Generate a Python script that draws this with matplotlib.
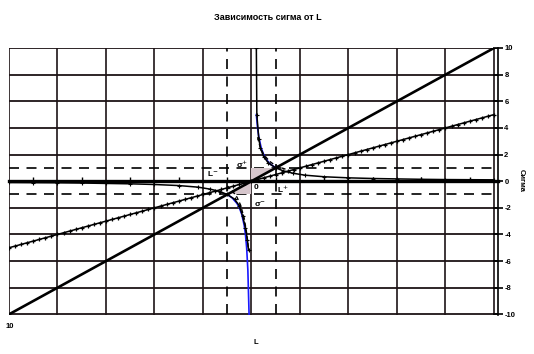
import matplotlib.pyplot as plt

# --- data ---
# straight line sigma = L
line_L = [-10, 10]
line_sigma = [-10, 10]

# line sigma = L/2 (dense cross markers)
half_L = [-10, -9.75, -9.5, -9.25, -9, -8.75, -8.5, -8.25, -8, -7.75, -7.5, -7.25,
          -7, -6.75, -6.5, -6.25, -6, -5.75, -5.5, -5.25, -5, -4.75, -4.5, -4.25,
          -4, -3.75, -3.5, -3.25, -3, -2.75, -2.5, -2.25, -2, -1.75, -1.5, -1.25,
          -1, -0.75, -0.5, -0.25, 0, 0.25, 0.5, 0.75, 1, 1.25, 1.5, 1.75, 2, 2.25,
          2.5, 2.75, 3, 3.25, 3.5, 3.75, 4, 4.25, 4.5, 4.75, 5, 5.25, 5.5, 5.75, 6,
          6.25, 6.5, 6.75, 7, 7.25, 7.5, 7.75, 8, 8.25, 8.5, 8.75, 9, 9.25, 9.5,
          9.75, 10]
half_sigma = [-5, -4.875, -4.75, -4.625, -4.5, -4.375, -4.25, -4.125, -4, -3.875,
              -3.75, -3.625, -3.5, -3.375, -3.25, -3.125, -3, -2.875, -2.75, -2.625,
              -2.5, -2.375, -2.25, -2.125, -2, -1.875, -1.75, -1.625, -1.5, -1.375,
              -1.25, -1.125, -1, -0.875, -0.75, -0.625, -0.5, -0.375, -0.25, -0.125,
              0, 0.125, 0.25, 0.375, 0.5, 0.625, 0.75, 0.875, 1, 1.125, 1.25, 1.375,
              1.5, 1.625, 1.75, 1.875, 2, 2.125, 2.25, 2.375, 2.5, 2.625, 2.75,
              2.875, 3, 3.125, 3.25, 3.375, 3.5, 3.625, 3.75, 3.875, 4, 4.125, 4.25,
              4.375, 4.5, 4.625, 4.75, 4.875, 5]

# sigma(L) hyperbola, black with markers
hyp_pos_L = [0.2, 0.22, 0.3, 0.37, 0.5, 0.7, 1.0, 1.3, 1.7, 2.2, 3.0, 4.0, 5.0,
             6.0, 7.0, 8.0, 9.0, 10.0]
hyp_pos_sigma = [10, 5.0, 3.2, 2.47, 1.85, 1.35, 1.0, 0.78, 0.6, 0.45, 0.33, 0.25,
                 0.2, 0.17, 0.14, 0.12, 0.11, 0.1]
hyp_neg_L = [-10.0, -9.0, -8.0, -7.0, -6.0, -5.0, -4.0, -3.0, -2.2, -1.7, -1.3,
             -1.0, -0.7, -0.5, -0.37, -0.25, -0.17, -0.12]
hyp_neg_sigma = [-0.1, -0.11, -0.12, -0.14, -0.17, -0.2, -0.25, -0.33, -0.45, -0.6,
                 -0.78, -1.0, -1.35, -1.85, -2.6, -3.5, -4.4, -5.2]

# 1/L, blue
blue_pos_L = [0.2, 0.25, 0.3, 0.4, 0.5, 0.6, 0.7, 0.8, 1.0]
blue_pos_sigma = [5.0, 4.0, 3.33, 2.5, 2.0, 1.67, 1.43, 1.25, 1.0]
blue_neg_L = [-1.0, -0.8, -0.6, -0.5, -0.4, -0.3, -0.25, -0.2, -0.15, -0.1]
blue_neg_sigma = [-1.0, -1.25, -1.67, -2.0, -2.5, -3.33, -4.0, -5.0, -6.67, -10.0]

# dashed curve
dash_pos_L = [0.25, 0.35, 0.5, 0.74, 1.0, 1.4]
dash_pos_sigma = [3.3, 2.6, 2.0, 1.5, 1.15, 0.9]
dash_neg_L = [-1.0, -0.8, -0.6, -0.45, -0.3, -0.2, -0.12]
dash_neg_sigma = [-0.35, -0.7, -1.2, -1.8, -2.8, -3.9, -5.2]

# shaded triangles
tri_up_L = [0, 0, 1]
tri_up_sigma = [0, 1, 1]
tri_dn_L = [0, 0, -1]
tri_dn_sigma = [0, -1, -1]

# limits marked with dashed lines
limit_vals = [-1, 1]

x_grid = [-10, -8, -6, -4, -2, 0, 2, 4, 6, 8, 10]
y_ticks = [-10, -8, -6, -4, -2, 0, 2, 4, 6, 8, 10]
axis_ticks = [-9, -7, -5, -3, -1, 1, 3, 5, 7, 9]

labels = [('L$^{-}$', -1.6, 0.5), ('σ$^{+}$', -0.37, 1.3), ('0', 0.2, -0.5),
          ('L$^{+}$', 1.3, -0.6), ('σ$^{-}$', 0.35, -1.7)]

grid_col = '#1e1416'

plt.rcParams['font.family'] = ['Liberation Sans', 'DejaVu Sans']

fig = plt.figure(figsize=(5.34, 3.54), dpi=100)
ax = fig.add_axes([9 / 534, 39 / 354, 489 / 534, 267 / 354])
ax.set_xlim(-10, 10.165)
ax.set_ylim(-10.05, 10)

# grid
for xv in x_grid:
    ax.axvline(xv, color=grid_col, lw=1.2, zorder=1)
for yv in y_ticks:
    ax.axhline(yv, color=grid_col, lw=1.3, zorder=1)

# dashed limit lines
for v in limit_vals:
    ax.axhline(v, color='black', lw=1.2, dashes=(6, 4.5), zorder=2)
    ax.plot([v, v], [-10, 10], color='black', lw=1.2, dashes=(6, 4.5), zorder=2)

# shaded regions
ax.fill(tri_up_L, tri_up_sigma, color='#d6c6cc', lw=0, zorder=2)
ax.fill(tri_dn_L, tri_dn_sigma, color='#d6c6cc', lw=0, zorder=2)

# curves
ax.plot(line_L, line_sigma, color='black', lw=1.9, zorder=4)
ax.plot(half_L, half_sigma, color='black', lw=1.1, marker='+', ms=3, mew=0.9, zorder=4)
ax.plot(blue_pos_L, blue_pos_sigma, color='#1a1aff', lw=1.2, zorder=3)
ax.plot(blue_neg_L, blue_neg_sigma, color='#1a1aff', lw=1.2, zorder=3)
ax.plot(hyp_pos_L, hyp_pos_sigma, color='black', lw=1.1, marker='+', ms=3, mew=0.8, zorder=4)
ax.plot(hyp_neg_L, hyp_neg_sigma, color='black', lw=1.1, marker='+', ms=3, mew=0.8, zorder=4)
ax.plot(dash_pos_L, dash_pos_sigma, color='black', lw=1.0, dashes=(3, 2), zorder=4)
ax.plot(dash_neg_L, dash_neg_sigma, color='black', lw=1.0, dashes=(3, 2), zorder=4)

for txt, lx, ly in labels:
    ax.text(lx, ly, txt, fontsize=6, fontweight='bold', ha='center', va='center', zorder=5)

# spines: x axis through zero, value axis on the right
ax.spines['bottom'].set_position(('data', 0))
ax.spines['bottom'].set_linewidth(2.4)
ax.spines['bottom'].set_zorder(3)
ax.spines['left'].set_visible(False)
ax.spines['top'].set_visible(False)
ax.spines['right'].set_linewidth(1.2)
ax.set_xticks(axis_ticks)
ax.tick_params(axis='x', direction='in', length=3, width=1, labelbottom=False)
ax.yaxis.tick_right()
ax.set_yticks(y_ticks)
ax.set_yticklabels([str(v) for v in y_ticks])
ax.tick_params(axis='y', direction='inout', length=7, width=1.2, pad=1,
               labelsize=5.5)
for lab in ax.get_yticklabels():
    lab.set_fontweight('bold')

fig.text(268 / 534, 1 - 17 / 354, 'Зависимость сигма от L', ha='center', va='center',
         fontsize=6.5, fontweight='bold')
fig.text(256 / 534, 1 - 342 / 354, 'L', ha='center', va='center', fontsize=5.5,
         fontweight='bold')
fig.text(10 / 534, 1 - 326 / 354, '10', ha='center', va='center', fontsize=5.5,
         fontweight='bold')
fig.text(521 / 534, 1 - 180 / 354, 'Сигма', ha='center', va='center', fontsize=5.5,
         fontweight='bold', rotation=-90)

fig.savefig('out.png', dpi=100)
